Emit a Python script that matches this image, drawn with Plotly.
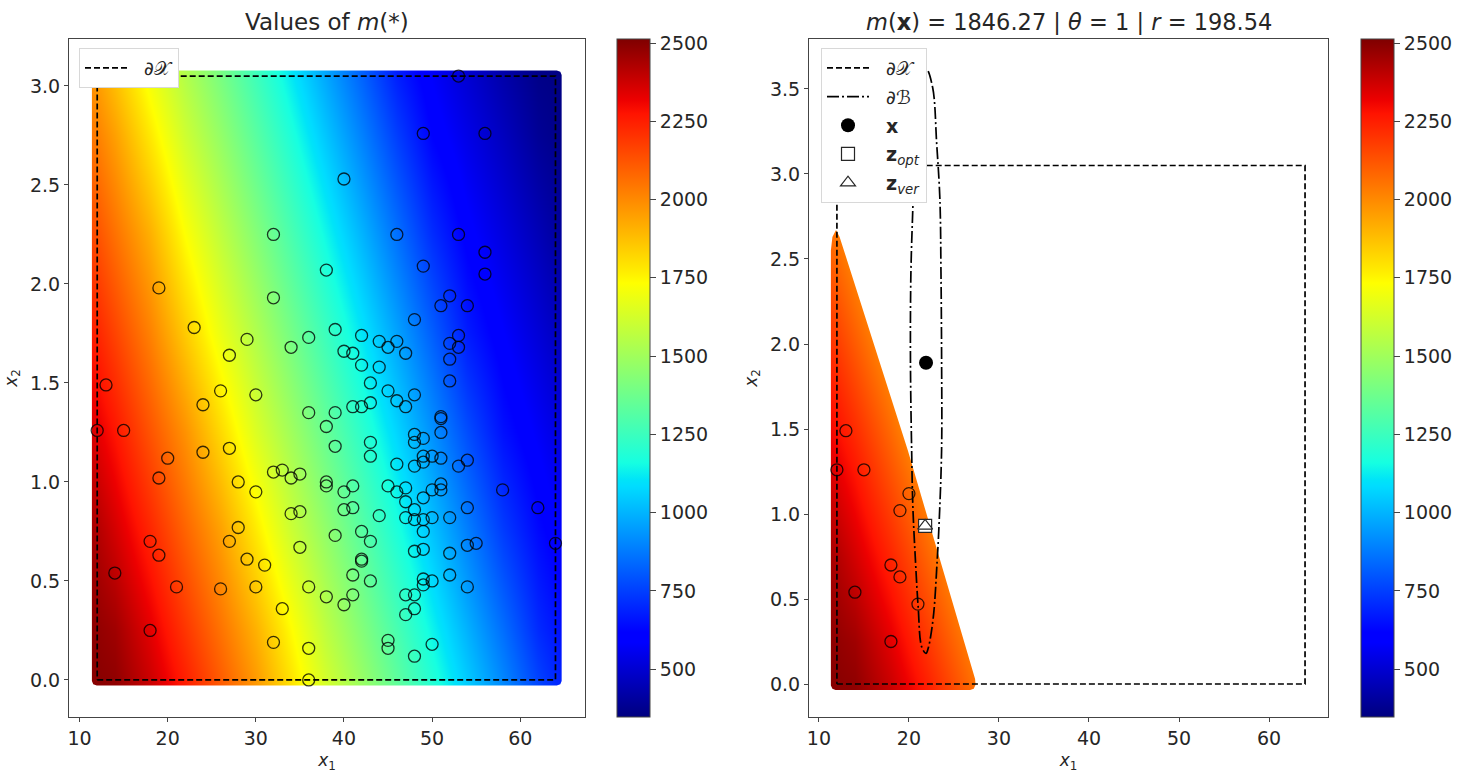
import plotly.graph_objects as go

W, H = 1464, 775

# field m(x1, x2), on a coarse grid
grid_x1 = [10, 14, 18, 22, 26, 30, 34, 38, 42, 46, 50, 54, 58, 62, 66]
grid_x2 = [-0.25, 0.25, 0.75, 1.25, 1.75, 2.25, 2.75, 3.25]
grid_m = [
    [2510, 2510, 2420, 2299, 2155, 2011, 1842, 1673, 1529, 1385, 1241, 1097, 953, 809, 676],
    [2505, 2455, 2335, 2196, 2052, 1908, 1739, 1570, 1426, 1282, 1138, 994, 850, 706, 619],
    [2483, 2363, 2233, 2089, 1945, 1776, 1607, 1463, 1319, 1175, 1031, 887, 743, 634, 558],
    [2393, 2270, 2126, 1982, 1813, 1644, 1500, 1356, 1212, 1068, 924, 780, 649, 573, 497],
    [2301, 2163, 2019, 1850, 1681, 1537, 1393, 1249, 1105, 961, 817, 673, 587, 511, 435],
    [2200, 2056, 1912, 1730, 1574, 1430, 1286, 1142, 998, 854, 710, 602, 526, 450, 374],
    [2092, 1948, 1779, 1610, 1466, 1322, 1178, 1034, 890, 746, 617, 541, 465, 389, 350],
    [1985, 1816, 1647, 1503, 1359, 1215, 1071, 927, 783, 639, 555, 479, 403, 350, 350],
]
m_min, m_max = 347, 2513
cbar_ticks = [500, 750, 1000, 1250, 1500, 1750, 2000, 2250, 2500]

# training points, left panel
pts_x1 = [53, 49, 56, 40, 32, 46, 53, 56, 49, 38, 56, 19, 32, 52, 51, 54, 48, 23, 39, 36,
          29, 42, 53, 52, 44, 46, 34, 45, 53, 40, 41, 47, 27, 52, 42, 44, 13, 43, 52, 26,
          45, 30, 48, 46, 24, 43, 47, 41, 42, 39, 36, 51, 51, 38, 12, 15, 51, 48, 49, 43,
          48, 39, 27, 24, 43, 20, 46, 49, 50, 51, 49, 48, 54, 53, 58, 32, 33, 34, 35, 28,
          19, 30, 38, 38, 41, 40, 45, 46, 47, 49, 47, 50, 51, 51, 48, 41, 40, 34, 35, 44,
          47, 48, 49, 50, 52, 54, 62, 28, 27, 49, 39, 42, 43, 18, 35, 29, 31, 42, 42, 19,
          48, 49, 52, 54, 55, 41, 43, 36, 30, 14, 38, 41, 40, 49, 49, 50, 52, 54, 47, 48,
          48, 47, 33, 26, 21, 32, 36, 45, 45, 50, 48, 18, 36, 64]
pts_x2 = [3.05, 2.76, 2.76, 2.53, 2.25, 2.25, 2.25, 2.16, 2.09, 2.07, 2.05, 1.98, 1.93, 1.94,
          1.89, 1.89, 1.82, 1.78, 1.77, 1.73, 1.72, 1.74, 1.74, 1.70, 1.71, 1.71, 1.68, 1.68,
          1.68, 1.66, 1.65, 1.65, 1.64, 1.62, 1.59, 1.58, 1.49, 1.50, 1.51, 1.46, 1.46, 1.44,
          1.44, 1.41, 1.39, 1.40, 1.38, 1.38, 1.38, 1.35, 1.35, 1.33, 1.32, 1.28, 1.26, 1.26,
          1.25, 1.24, 1.22, 1.20, 1.20, 1.18, 1.17, 1.15, 1.13, 1.12, 1.09, 1.13, 1.13, 1.12,
          1.10, 1.08, 1.11, 1.08, 0.96, 1.05, 1.06, 1.02, 1.04, 1.00, 1.02, 0.95, 1.00, 0.98,
          0.98, 0.95, 0.98, 0.95, 0.97, 0.92, 0.90, 0.96, 0.99, 0.96, 0.86, 0.87, 0.86, 0.84,
          0.85, 0.83, 0.82, 0.81, 0.81, 0.82, 0.82, 0.87, 0.87, 0.77, 0.70, 0.75, 0.73, 0.75,
          0.70, 0.70, 0.67, 0.61, 0.58, 0.61, 0.60, 0.63, 0.65, 0.66, 0.64, 0.68, 0.69, 0.53,
          0.50, 0.47, 0.47, 0.54, 0.42, 0.43, 0.38, 0.51, 0.48, 0.50, 0.53, 0.47, 0.43, 0.43,
          0.36, 0.33, 0.36, 0.46, 0.47, 0.19, 0.16, 0.20, 0.16, 0.18, 0.12, 0.25, 0.00, 0.69]

# the points that stay feasible in the right panel
near_x1 = [12, 13, 15, 20, 19, 18, 19, 14, 21, 18]
near_x2 = [1.26, 1.49, 1.26, 1.12, 1.02, 0.70, 0.63, 0.54, 0.47, 0.25]

# boundary of X
bound_x1 = [12, 64, 64, 12, 12]
bound_x2 = [0, 0, 3.05, 3.05, 0]

# boundary of B
ball_x1 = [21.9, 22.63, 23.08, 23.44, 23.56, 23.63, 23.63, 23.33, 23.14, 22.7, 22.14, 21.89,
           21.41, 21.03, 20.74, 20.44, 20.3, 20.17, 20.22, 20.44, 20.67, 21.11, 21.9]
ball_x2 = [3.62, 3.51, 3.18, 2.85, 2.42, 1.90, 1.38, 0.92, 0.73, 0.39, 0.21, 0.18,
           0.22, 0.45, 0.71, 1.04, 1.38, 1.90, 2.42, 2.81, 3.18, 3.51, 3.62]

x_pt = ([21.9], [1.89])
z_opt = ([21.8], [0.93])
z_ver = ([21.8], [0.93])

# painted area of each panel (edge of the blob of colour)
left_region_x = [11.95, 11.55, 11.4, 11.4, 11.55, 11.95, 64.15, 64.55, 64.7, 64.7, 64.55, 64.15, 11.95]
left_region_y = [-0.028, -0.022, -0.005, 3.055, 3.072, 3.078, 3.078, 3.072, 3.055, -0.005, -0.022, -0.028, -0.028]
right_region_x = [11.85, 11.5, 11.33, 11.33, 11.5, 11.9, 12.3, 19.9, 27.35, 27.4, 27.2, 26.8, 11.85]
right_region_y = [-0.035, -0.028, -0.008, 2.55, 2.63, 2.67, 2.63, 1.37, 0.03, -0.005, -0.028, -0.035, -0.035]

left_xrange = [8.8, 67.35]
left_yrange = [-0.187, 3.237]
right_xrange = [8.9, 66.55]
right_yrange = [-0.194, 3.794]

INK = "#262626"
SPINE = "#444444"
FONT = "DejaVu Sans"
NB = "\u00a0\u00a0"  # pushes legend text away from the sample

# matplotlib jet
jet = [
    [0.0, "#00007f"], [0.11, "#0000ff"], [0.125, "#0000ff"], [0.34, "#00dcff"],
    [0.35, "#00e4f8"], [0.375, "#16ffe1"], [0.64, "#ffff00"], [0.66, "#ffea00"],
    [0.89, "#ff1300"], [0.91, "#ed0000"], [1.0, "#7f0000"],
]


def field(xa, ya, cb_left):
    return go.Heatmap(x=grid_x1, y=grid_x2, z=grid_m, xaxis=xa, yaxis=ya,
                      zmin=m_min, zmax=m_max, colorscale=jet, zsmooth="best",
                      hoverinfo="skip",
                      colorbar=dict(x=cb_left / W, xanchor="left", xpad=0, ypad=0,
                                    y=(H - 717) / H, yanchor="bottom",
                                    len=678 / H, lenmode="fraction",
                                    thickness=33, thicknessmode="pixels",
                                    tickvals=cbar_ticks, ticks="outside", ticklen=6,
                                    tickwidth=1, tickcolor=SPINE,
                                    outlinewidth=1, outlinecolor=SPINE,
                                    tickfont=dict(size=19, color=INK, family=FONT)))


def mask(xr, yr, rx, ry, xa, ya):
    # white frame with the painted area cut out of it (inner path runs the other way round)
    mx = [xr[0], xr[0], xr[1], xr[1], xr[0]] + rx[::-1] + [xr[0]]
    my = [yr[0], yr[1], yr[1], yr[0], yr[0]] + ry[::-1] + [yr[0]]
    return go.Scatter(x=mx, y=my, xaxis=xa, yaxis=ya, mode="lines", fill="toself",
                      fillcolor="white", line=dict(width=0, simplify=False),
                      hoverinfo="skip", showlegend=False)


def points(px, py, xa, ya):
    return go.Scatter(x=px, y=py, xaxis=xa, yaxis=ya, mode="markers", showlegend=False,
                      hoverinfo="skip",
                      marker=dict(symbol="circle-open", size=12,
                                  color="rgba(0,0,0,0.78)", line=dict(width=1.3)))


def boundary(xa, ya, legend):
    return go.Scatter(x=bound_x1, y=bound_x2, xaxis=xa, yaxis=ya, mode="lines",
                      name=NB + "∂𝒳", legend=legend, legendgroup=legend + "a",
                      line=dict(color="black", width=1.7, dash="6px,3px"))


fig = go.Figure()

# left panel
fig.add_trace(field("x", "y", 617))
fig.add_trace(mask(left_xrange, left_yrange, left_region_x, left_region_y, "x", "y"))
fig.add_trace(boundary("x", "y", "legend"))
fig.add_trace(points(pts_x1, pts_x2, "x", "y"))

# right panel
fig.add_trace(field("x2", "y2", 1361))
fig.add_trace(mask(right_xrange, right_yrange, right_region_x, right_region_y, "x2", "y2"))
fig.add_trace(points(near_x1, near_x2, "x2", "y2"))
fig.add_trace(boundary("x2", "y2", "legend2"))
fig.add_trace(go.Scatter(x=ball_x1, y=ball_x2, xaxis="x2", yaxis="y2", mode="lines",
                         name=NB + "∂ℬ", legend="legend2", legendgroup="b",
                         line=dict(color="black", width=1.7, dash="12px,3px,2px,3px",
                                   shape="spline")))
fig.add_trace(go.Scatter(x=x_pt[0], y=x_pt[1], xaxis="x2", yaxis="y2", mode="markers",
                         name=NB + "<b>x</b>", legend="legend2", legendgroup="c",
                         marker=dict(symbol="circle", size=14, color="black")))
fig.add_trace(go.Scatter(x=z_opt[0], y=z_opt[1], xaxis="x2", yaxis="y2", mode="markers",
                         name=NB + "<b>z</b><sub><i>opt</i></sub>", legend="legend2", legendgroup="d",
                         marker=dict(symbol="square", size=13, color="white",
                                     line=dict(color=INK, width=1.2))))
fig.add_trace(go.Scatter(x=z_ver[0], y=z_ver[1], xaxis="x2", yaxis="y2", mode="markers",
                         name=NB + "<b>z</b><sub><i>ver</i></sub>", legend="legend2", legendgroup="e",
                         marker=dict(symbol="triangle-up", size=13, color="white",
                                     line=dict(color=INK, width=1.2))))

axis_style = dict(showgrid=False, zeroline=False, showline=True, mirror=True,
                  linecolor=SPINE, linewidth=1, ticks="outside", ticklen=4, tickwidth=1,
                  tickcolor=SPINE, tickfont=dict(size=19, color=INK, family=FONT))
x_title = dict(text="<i>x</i><sub>1</sub>", font=dict(size=17, color=INK, family=FONT), standoff=6)
y_title = dict(text="<i>x</i><sub>2</sub>", font=dict(size=17, color=INK, family=FONT), standoff=8)
legend_style = dict(bgcolor="white", bordercolor="#d8d8d8", borderwidth=1,
                    font=dict(size=19, color=INK, family=FONT), yanchor="top",
                    xanchor="left", traceorder="grouped", itemclick=False, itemwidth=42)

fig.update_layout(
    width=W, height=H, autosize=False,
    margin=dict(l=0, r=0, t=0, b=0, autoexpand=False),
    paper_bgcolor="white", plot_bgcolor="white",
    font=dict(family=FONT, color=INK),
    xaxis=dict(domain=[69 / W, 585 / W], range=left_xrange, tickvals=[10, 20, 30, 40, 50, 60],
               anchor="y", title=x_title, **axis_style),
    yaxis=dict(domain=[(H - 717) / H, (H - 39) / H], range=left_yrange, anchor="x",
               tickvals=[0, 0.5, 1, 1.5, 2, 2.5, 3], tickformat=".1f", title=y_title, **axis_style),
    xaxis2=dict(domain=[809 / W, 1328 / W], range=right_xrange, tickvals=[10, 20, 30, 40, 50, 60],
                anchor="y2", title=x_title, **axis_style),
    yaxis2=dict(domain=[(H - 717) / H, (H - 39) / H], range=right_yrange, anchor="x2",
                tickvals=[0, 0.5, 1, 1.5, 2, 2.5, 3, 3.5], tickformat=".1f", title=y_title, **axis_style),
    legend=dict(x=79 / W, y=1 - 48 / H, **legend_style),
    legend2=dict(x=821 / W, y=1 - 48 / H, tracegroupgap=1, **legend_style),
    annotations=[
        dict(text="Values of <i>m</i>(*)", x=327 / W, y=1 - 22 / H, xref="paper", yref="paper",
             xanchor="center", yanchor="middle", showarrow=False,
             font=dict(size=23, color=INK, family=FONT)),
        dict(text="<i>m</i>(<b>x</b>) = 1846.27 | <i>θ</i> = 1 | <i>r</i> = 198.54",
             x=1069 / W, y=1 - 22 / H, xref="paper", yref="paper",
             xanchor="center", yanchor="middle", showarrow=False,
             font=dict(size=22.5, color=INK, family=FONT)),
    ],
)

fig.write_html("out.html", config=dict(displayModeBar=False),
               post_script="document.body.style.margin='0';")
